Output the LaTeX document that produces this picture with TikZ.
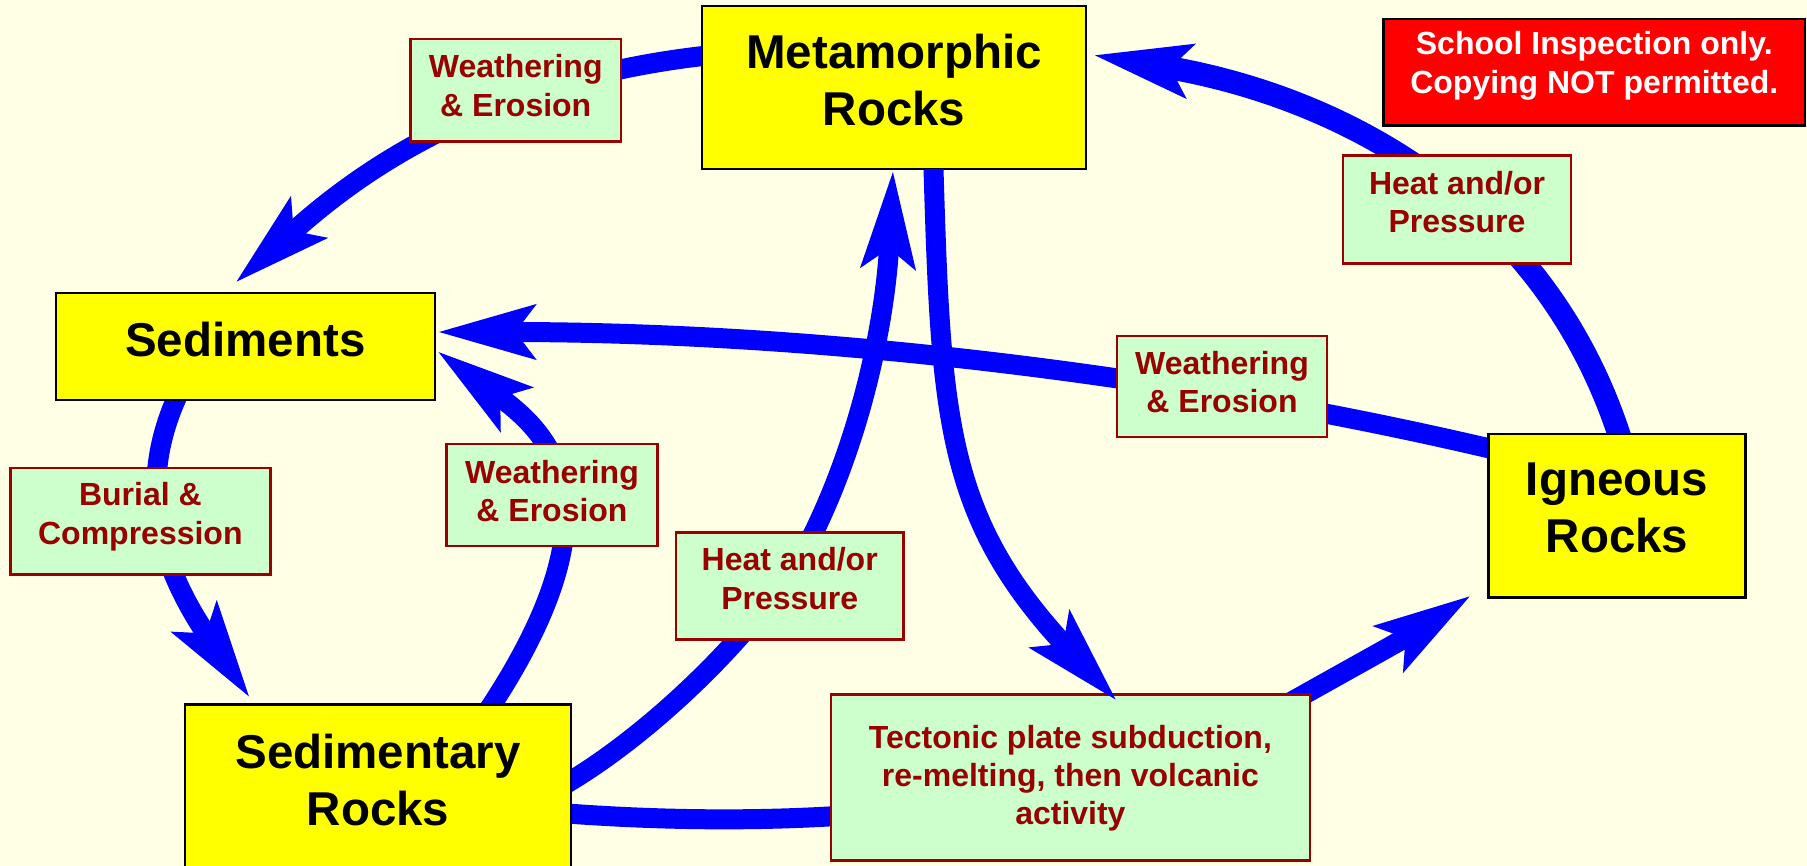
\documentclass[tikz,border=0pt]{standalone}
\usepackage{fontspec}
\setmainfont{Liberation Sans}
\usetikzlibrary{arrows.meta,calc,backgrounds}
\definecolor{bgyellow}{RGB}{255,255,229}
\definecolor{rockyellow}{RGB}{255,255,0}
\definecolor{warnred}{RGB}{255,0,0}
\definecolor{procred}{RGB}{153,0,0}
\definecolor{procgreen}{RGB}{204,255,204}
\definecolor{flowblue}{RGB}{0,0,255}
\newcommand{\tbox}[4]{\parbox[c][#2][t]{#1}{\centering\vspace*{#3}#4\par}}
\tikzset{
 rock/.style={draw=black, line width=2.5pt, fill=rockyellow, inner sep=0pt, outer sep=0pt, font={\fontsize{47.5}{57}\selectfont\bfseries}},
 proc/.style={draw=procred, line width=2.5pt, fill=procgreen, inner sep=0pt, outer sep=0pt, text=procred, font={\fontsize{32}{38.4}\selectfont\bfseries}},
 warnbox/.style={draw=black, line width=2.5pt, fill=warnred, inner sep=0pt, outer sep=0pt, text=white, font={\fontsize{32}{38.4}\selectfont\bfseries}},
 flow/.style={draw=flowblue, line width=20pt, -{Stealth[length=96pt,width=52pt,inset=18pt]}},
}
\begin{document}
\begin{tikzpicture}[x=1pt,y=-1pt]
\useasboundingbox (0,0) rectangle (1807,866);
% boxes
\node[rock] (meta) at (894,87.5) {\tbox{384pt}{163pt}{28.5pt}{Metamorphic\\Rocks}};
\node[rock] (sed) at (245.4,346.5) {\tbox{379.3pt}{107pt}{29pt}{Sediments}};
\node[rock] (sedr) at (378,787.7) {\tbox{386.4pt}{166pt}{29.3pt}{Sedimentary\\Rocks}};
\node[rock] (ign) at (1617,515.7) {\tbox{257.4pt}{163.3pt}{28.4pt}{Igneous\\Rocks}};
\node[warnbox] (warn) at (1594.25,72.25) {\tbox{421.5pt}{106.5pt}{12.5pt}{School Inspection only.\\Copying NOT permitted.}};
\node[proc] (we1) at (515.75,90.35) {\tbox{210.5pt}{102.7pt}{15.5pt}{Weathering\\\& Erosion}};
\node[proc] (hp1) at (1457,209.5) {\tbox{228pt}{107.6pt}{15.7pt}{Heat and/or\\Pressure}};
\node[proc] (we2) at (1222,386.4) {\tbox{210pt}{100.8pt}{14.9pt}{Weathering\\\& Erosion}};
\node[proc] (bc) at (140.35,521.35) {\tbox{260pt}{106.7pt}{14.7pt}{Burial \&\\Compression}};
\node[proc] (we3) at (552,495) {\tbox{210.7pt}{102pt}{16.2pt}{Weathering\\\& Erosion}};
\node[proc] (hp2) at (789.75,586) {\tbox{227.5pt}{107.4pt}{15.4pt}{Heat and/or\\Pressure}};
\node[proc] (tect) at (1070.4,777.7) {\tbox{479.2pt}{166pt}{30.2pt}{Tectonic plate subduction,\\re-melting, then volcanic\\activity}};
\begin{pgfonlayer}{background}
\fill[bgyellow] (0,0) rectangle (1807,866);
% Metamorphic -> Sediments
\draw[flow] ($(meta.west)+(15,-33)$) .. controls (462,80) and (332,197) .. ($(sed.north)+(-10.4,-10)$);
% Sediments -> Sedimentary rocks
\draw[flow] ($(sed.south)+(-64.3,-11.7)$) .. controls (131,490) and (165,574) .. ($(sedr.north)+(-128,-6.7)$);
% Sedimentary rocks -> Sediments
\draw[flow] ($(sedr.north)+(105.6,12.5)$) .. controls (632,497.5) and (541.8,428) .. ($(sed.east)+(2,4.5)$);
% Sedimentary rocks -> Metamorphic
\draw[flow] ($(sedr.north east)+(-13.2,83.7)$) .. controls (658,732) and (774.8,613) .. (814,532) .. controls (862,433) and (885.5,320) .. ($(meta.south)+(-1,1)$);
% Sedimentary rocks -> Igneous
\draw[flow] ($(sedr.north east)+(-15,108)$) .. controls (780,830) and (1080.5,820.5) .. (1298,698) .. controls (1341.5,673.5) and (1404,639) .. ($(ign.south west)+(-17,-2)$);
% Igneous -> Metamorphic
\draw[flow, line width=23pt] ($(ign.north)+(6.4,14.4)$) .. controls (1549.4,203.6) and (1339.5,96) .. ($(meta.east)+(7,-32.5)$);
% Igneous -> Sediments
\draw[flow] ($(ign.west)+(15,-64)$) .. controls (1197,379) and (837,332) .. ($(sed.east)+(2,-14.5)$);
\end{pgfonlayer}
% Metamorphic -> Tectonic
\draw[flow] ($(meta.south)+(39.5,0)$) .. controls (941,419) and (946,518.5) .. ($(tect.north)+(46.6,6.3)$);
\end{tikzpicture}
\end{document}
